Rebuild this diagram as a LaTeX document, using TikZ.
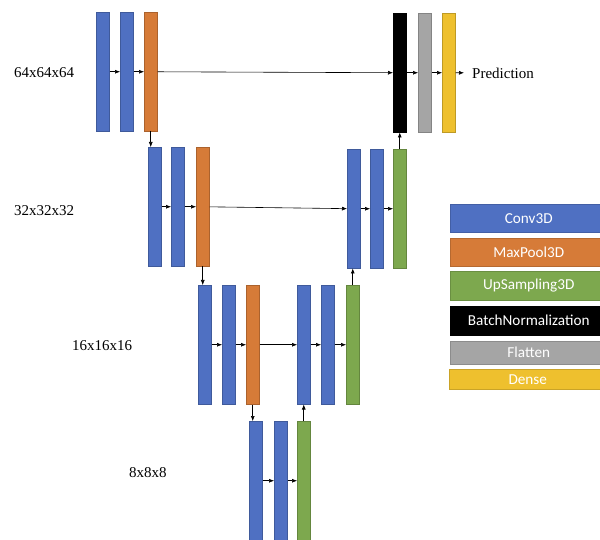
\documentclass[tikz,border=0pt]{standalone}
\usepackage{fontspec}
\setmainfont{Liberation Serif}
\newfontfamily\legendfont{Carlito}
\usetikzlibrary{arrows.meta}
\definecolor{convblue}{HTML}{4F70C2}
\definecolor{poolorange}{HTML}{D67B38}
\definecolor{upgreen}{HTML}{7DA84E}
\definecolor{flatgray}{HTML}{A5A5A5}
\definecolor{densegold}{HTML}{EEC02E}
\tikzset{
  layer/.style={draw=#1!80!black, fill=#1, line width=0.5pt, inner sep=0pt,
    minimum width=13pt, minimum height=119pt, anchor=north west},
  flow/.style={-{Latex[length=5pt,width=4pt]}, line width=0.6pt},
  sizelabel/.style={font=\fontsize{15}{15}\selectfont, anchor=west, inner sep=0pt},
  legendbox/.style={fill=#1, draw=#1!85!black, line width=0.5pt, anchor=north west,
    inner sep=0pt, minimum width=157pt, text=white,
    font=\legendfont\fontsize{15.2}{15.2}\selectfont}
}
\begin{document}
\begin{tikzpicture}[x=1pt,y=-1pt]
\clip (0,0) rectangle (600,540);
\fill[white] (0,0) rectangle (600,540);

% encoder level 1 (64^3)
\node[layer=convblue]   (c11) at (96,12)  {};
\node[layer=convblue]   (c12) at (120,12) {};
\node[layer=poolorange] (p1)  at (144,12) {};
% output head
\node[layer=black]      (bn)  at (393,13) {};
\node[layer=flatgray]   (fl)  at (418,13) {};
\node[layer=densegold]  (de)  at (442,13) {};

% level 2 (32^3)
\node[layer=convblue]   (c21) at (148,147) {};
\node[layer=convblue]   (c22) at (171,147) {};
\node[layer=poolorange] (p2)  at (196,147) {};
\node[layer=convblue]   (d21) at (347,149) {};
\node[layer=convblue]   (d22) at (370,149) {};
\node[layer=upgreen]    (u2)  at (393,149) {};

% level 3 (16^3)
\node[layer=convblue]   (c31) at (198,285) {};
\node[layer=convblue]   (c32) at (222,285) {};
\node[layer=poolorange] (p3)  at (246,285) {};
\node[layer=convblue]   (d31) at (297,285) {};
\node[layer=convblue]   (d32) at (321,285) {};
\node[layer=upgreen]    (u3)  at (346,285) {};

% bottleneck (8^3)
\node[layer=convblue]   (c41) at (249,421) {};
\node[layer=convblue]   (c42) at (274,421) {};
\node[layer=upgreen]    (u4)  at (297,421) {};

% resolution labels
\node[sizelabel] (s64) at (14,73)  {64x64x64};
\node[sizelabel] (s32) at (14,211) {32x32x32};
\node[sizelabel] (s16) at (72,346) {16x16x16};
\node[sizelabel] (s8)  at (129,473) {8x8x8};
\node[sizelabel, inner xsep=8pt] (pred) at (464,73) {Prediction};

% horizontal flow within each level
\draw[flow] (c11) -- (c12);
\draw[flow] (c12) -- (p1);
\draw[flow] (p1) -- (bn);
\draw[flow] (bn) -- (fl);
\draw[flow] (fl) -- (de);
\draw[flow] (de) -- (pred);

\draw[flow] (c21) -- (c22);
\draw[flow] (c22) -- (p2);
\draw[flow] (p2) -- (d21);
\draw[flow] (d21) -- (d22);
\draw[flow] (d22) -- (u2);

\draw[flow] (c31) -- (c32);
\draw[flow] (c32) -- (p3);
\draw[flow] (p3) -- (d31);
\draw[flow] (d31) -- (d32);
\draw[flow] (d32) -- (u3);

\draw[flow] (c41) -- (c42);
\draw[flow] (c42) -- (u4);

% down-sampling path
\draw[flow] (p1.south) -- (p1.south |- c21.north);
\draw[flow] (p2.south) -- (p2.south |- c31.north);
\draw[flow] (p3.south) -- (p3.south |- c41.north);

% up-sampling path
\draw[flow] (u4.north) -- (u4.north |- d31.south);
\draw[flow] (u3.north) -- (u3.north |- d21.south);
\draw[flow] (u2.north) -- (u2.north |- bn.south);

% legend
\node[legendbox=convblue,   minimum height=28pt] (lg1) at (450,204) {Conv3D};
\node[legendbox=poolorange, minimum height=28pt] (lg2) at (450,238) {MaxPool3D};
\node[legendbox=upgreen,    minimum height=29pt] (lg3) at (450,271) {UpSampling3D};
\node[legendbox=black,      minimum height=29pt] (lg4) at (450,306) {BatchNormalization};
\node[legendbox=flatgray,   minimum height=23pt] (lg5) at (450,341) {Flatten};
\node[legendbox=densegold,  minimum height=20pt] (lg6) at (449,369) {Dense};
\end{tikzpicture}
\end{document}
